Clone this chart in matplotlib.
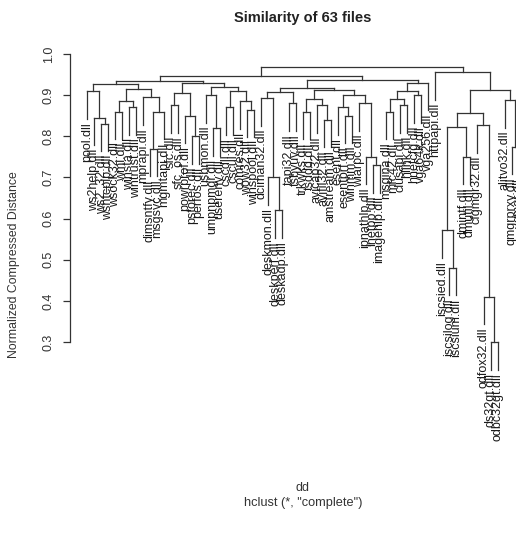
import matplotlib
matplotlib.use("Agg")
import matplotlib.pyplot as plt

plt.rcParams['font.family'] = ['Liberation Sans', 'DejaVu Sans']

# leaf labels in dendrogram order
labels = [
    "pool.dll", "ws2help.dll", "ws2_32.dll", "wshtcpip.dll", "wsock32.dll",
    "wmi.dll", "winsta.dll", "wintrust.dll", "mprapi.dll", "dimsntfy.dll",
    "msgsvc.dll", "mgmtapi.dll", "sfc.dll", "sfc_os.dll", "powrprof.dll",
    "pstorec.dll", "perfos.dll", "usbmon.dll", "umpnpmgr.dll", "userenv.dll",
    "cscdll.dll", "cscui.dll", "comres.dll", "wow32.dll", "winspool.dll",
    "dciman32.dll", "deskmon.dll", "deskperf.dll", "deskadp.dll", "tapi32.dll",
    "tsbyuv.dll", "trkwks.dll", "tsddd.dll", "avicap32.dll", "avifil32.dll",
    "amstream.dll", "esent.dll", "esentprf.dll", "winmm.dll", "wiarpc.dll",
    "ipnathlp.dll", "inetpp.dll", "imagehlp.dll", "msgina.dll", "mfc42.dll",
    "clusapi.dll", "hlink.dll", "hnetcfg.dll", "vga64k.dll", "vga256.dll",
    "httpapi.dll", "iscsied.dll", "iscsilog.dll", "iscsium.dll", "dmintf.dll",
    "dmutil.dll", "cfgmgr32.dll", "odfox32.dll", "ds32gt.dll", "odbc32gt.dll",
    "alitvo32.dll", "qmgrprxy.dll", "qmgr.dll",
]

# hclust style merges: negative = leaf number, positive = earlier merge
merge_a = [-3, -2, -1, -5, -7, 4, -10, 7, -9, 6, 3,
           -13, -16, -15, 12, -19, -18, -21, -24, -23, 18, 17, 15, 11,
           -28, -27, -26, -30, 27, -32, -35, -34, 30, -38, -37, -42, -41, -40, 35, 33, 29,
           -44, -46, 42, -48, 44, 46, 41, 24,
           -53, -52, -55, 51, -59, -58, -57, 53, -62, -61, 57, -51, 49]
merge_b = [-4, 1, 2, -6, -8, 5, -11, -12, 8, 9, 10,
           -14, -17, 13, 14, -20, 16, -22, -25, 19, 20, 21, 22, 23,
           -29, 25, 26, -31, 28, -33, -36, 31, 32, -39, 34, -43, 36, 37, 38, 39, 40,
           -45, -47, 43, -49, 45, -50, 47, 48,
           -54, 50, -56, 52, -60, 54, 55, 56, -63, 58, 59, 60, 61]
heights = [0.83, 0.845, 0.91, 0.86, 0.87, 0.885, 0.77, 0.86, 0.895, 0.915, 0.927,
           0.875, 0.80, 0.85, 0.905, 0.82, 0.90, 0.87, 0.865, 0.885, 0.91, 0.92, 0.93, 0.935,
           0.62, 0.70, 0.893, 0.88, 0.907, 0.86, 0.84, 0.875, 0.89, 0.85, 0.87, 0.73, 0.75, 0.88, 0.90, 0.912, 0.918,
           0.86, 0.875, 0.89, 0.90, 0.91, 0.93, 0.938, 0.947,
           0.48, 0.572, 0.75, 0.822, 0.30, 0.41, 0.827, 0.856, 0.774, 0.888, 0.912, 0.956, 0.969]

hang = 0.1 * (max(heights) - min(heights))
line_col = '#333333'

fig = plt.figure(figsize=(5.16, 5.43), dpi=100)
ax = fig.add_axes([70 / 516, (543 - 445) / 543, 466 / 516, (445 - 50) / 543])
ax.set_xlim(1 - 2.49, 63 + 2.49)
ax.set_ylim(1.0 - 391 / 411.4, 1.0 + 4 / 411.4)

node_x = {}


def child_pos(c):
    if c < 0:
        return c * -1, None
    return node_x[c], heights[c - 1]


for i, (a, b, h) in enumerate(zip(merge_a, merge_b, heights), start=1):
    xa, ha = child_pos(a)
    xb, hb = child_pos(b)
    node_x[i] = (xa + xb) / 2.0
    ax.plot([xa, xb], [h, h], color=line_col, lw=0.9)
    for c, xc, hc in ((a, xa, ha), (b, xb, hb)):
        if hc is None:
            bottom = h - hang
            ax.plot([xc, xc], [h, bottom], color=line_col, lw=0.9)
            ax.text(xc, bottom - 0.008, labels[c * -1 - 1], rotation=90,
                    ha='center', va='top', fontsize=9, color='#1a1a1a')
        else:
            ax.plot([xc, xc], [h, hc], color=line_col, lw=0.9)

for s in ['top', 'right', 'bottom']:
    ax.spines[s].set_visible(False)
ax.spines['left'].set_bounds(0.3, 1.0)
ax.spines['left'].set_color(line_col)
ax.spines['left'].set_linewidth(0.9)
ax.set_xticks([])
ticks = [0.3, 0.4, 0.5, 0.6, 0.7, 0.8, 0.9, 1.0]
ax.set_yticks(ticks)
ax.set_yticklabels(['%.1f' % t for t in ticks], rotation=90, va='center', fontsize=9, color='#333333')
ax.tick_params(axis='y', length=5, width=0.9, color=line_col, pad=6)

fig.text(303 / 516, 1 - 18 / 543, 'Similarity of 63 files', ha='center', va='center',
         fontsize=10.5, fontweight='bold', color='#222222')
fig.text(14 / 516, 1 - 265 / 543, 'Normalized Compressed Distance', rotation=90,
         ha='center', va='center', fontsize=8.8, color='#333333')
fig.text(303 / 516, 1 - 488 / 543, 'dd', ha='center', va='center', fontsize=9, color='#333333')
fig.text(303 / 516, 1 - 503 / 543, 'hclust (*, "complete")', ha='center', va='center',
         fontsize=9.2, color='#333333')

fig.savefig('out.png', dpi=100)
